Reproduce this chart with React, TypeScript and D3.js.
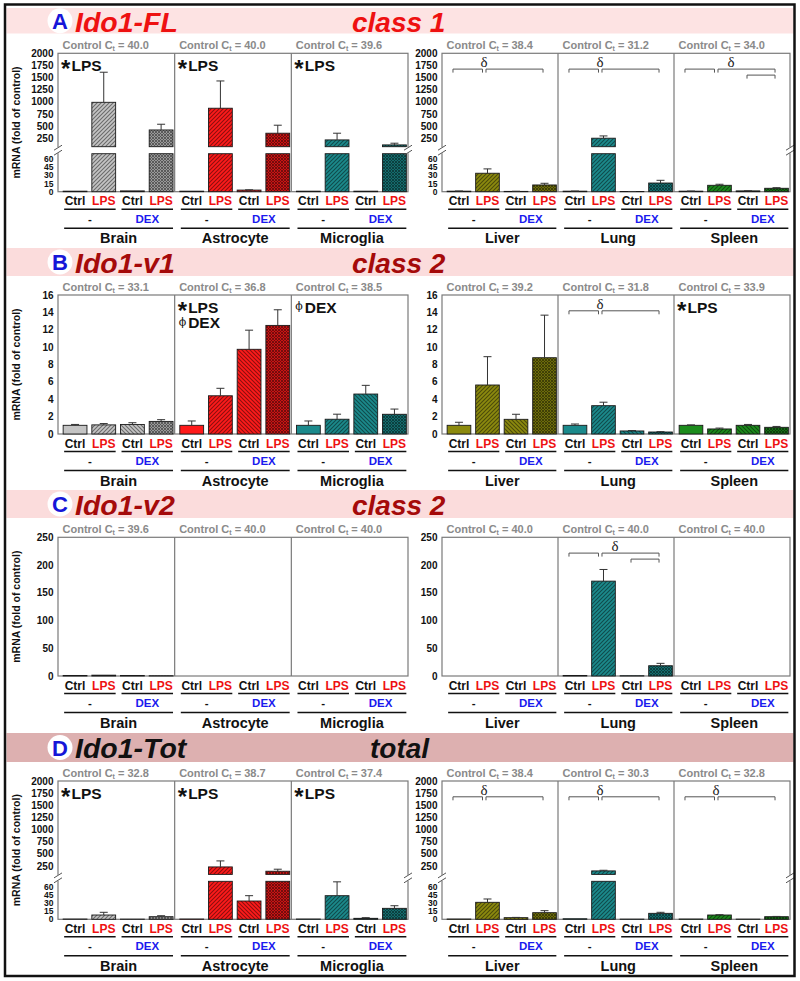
import React from "react";
import * as d3 from "d3";

const tissues = ["Brain", "Astrocyte", "Microglia", "Liver", "Lung", "Spleen"];
const barLabels = ["Ctrl", "LPS", "Ctrl", "LPS"];
const treatmentLabels = ["-", "DEX"];
const tissueColors = ["#c4c4c4", "#ff1a1a", "#1b8a8c", "#8c8a0e", "#1b8a8c", "#1c8c1c"];
const barKinds = ["solid", "lps", "dex", "dexlps"];

const brokenUpperTicks = [250, 500, 750, 1000, 1250, 1500, 1750, 2000];
const brokenLowerTicks = [0, 15, 30, 45, 60];
const v1Ticks = [0, 2, 4, 6, 8, 10, 12, 14, 16];
const v2Ticks = [0, 50, 100, 150, 200, 250];

// Panel A: Ido1-FL
const flMean = [
  [1, 990, 1.5, 420],
  [1, 868, 3, 353],
  [1, 215, 1, 112],
  [1, 34, 0.6, 12.4],
  [1, 250, 0.3, 16],
  [1, 11.8, 1.5, 6.3],
];
const flSD = [
  [0, 620, 0, 118],
  [0, 562, 0.5, 165],
  [0, 138, 0, 35],
  [0.3, 8, 0.2, 3.1],
  [0.2, 47, 0.1, 5],
  [0.2, 1.9, 0.2, 1.1],
];
const flCt = ["40.0", "40.0", "39.6", "38.4", "31.2", "34.0"];
const flNotes = [
  { t: 0, lines: [["*", "LPS"]] },
  { t: 1, lines: [["*", "LPS"]] },
  { t: 2, lines: [["*", "LPS"]] },
];
const flBrackets = [
  { t: 3, a: 0, b: 1, lv: 0 }, { t: 3, a: 1, b: 3, lv: 0 },
  { t: 4, a: 0, b: 1, lv: 0 }, { t: 4, a: 1, b: 3, lv: 0 },
  { t: 5, a: 0, b: 1, lv: 0 }, { t: 5, a: 1, b: 3, lv: 0 }, { t: 5, a: 2, b: 3, lv: 1 },
];
const flDeltas = [{ t: 3, dx: 0 }, { t: 4, dx: 0 }, { t: 5, dx: 15 }];

// Panel B: Ido1-v1
const v1Mean = [
  [1.0, 1.05, 1.1, 1.45],
  [1.0, 4.4, 9.75, 12.5],
  [1.0, 1.7, 4.6, 2.27],
  [1.0, 5.64, 1.69, 8.78],
  [1.0, 3.26, 0.35, 0.23],
  [1.0, 0.58, 1.0, 0.77],
];
const v1SD = [
  [0.1, 0.15, 0.2, 0.2],
  [0.5, 0.86, 2.2, 1.8],
  [0.5, 0.58, 1.0, 0.6],
  [0.35, 3.26, 0.58, 4.9],
  [0.15, 0.4, 0.05, 0.04],
  [0.05, 0.1, 0.1, 0.1],
];
const v1Ct = ["33.1", "36.8", "38.5", "39.2", "31.8", "33.9"];
const v1Notes = [
  { t: 1, lines: [["*", "LPS"], ["ϕ", "DEX"]] },
  { t: 2, lines: [["ϕ", "DEX"]] },
  { t: 5, lines: [["*", "LPS"]] },
];
const v1Brackets = [{ t: 4, a: 0, b: 1, lv: 0 }, { t: 4, a: 1, b: 3, lv: 0 }];
const v1Deltas = [{ t: 4, dx: 0 }];

// Panel C: Ido1-v2
const v2Mean = [
  [1, 1.5, 1, 0.5],
  [0, 0, 0, 0],
  [0, 0, 0, 0],
  [0, 0, 0, 0],
  [1, 171, 0.5, 18.5],
  [0, 0, 0, 0],
];
const v2SD = [
  [0, 0, 0, 0],
  [0, 0, 0, 0],
  [0, 0, 0, 0],
  [0, 0, 0, 0],
  [0, 21, 0, 4.3],
  [0, 0, 0, 0],
];
const v2Ct = ["39.6", "40.0", "40.0", "40.0", "40.0", "40.0"];
const v2Notes: any[] = [];
const v2Brackets = [{ t: 4, a: 0, b: 1, lv: 0 }, { t: 4, a: 1, b: 3, lv: 0 }, { t: 4, a: 2, b: 3, lv: 1 }];
const v2Deltas = [{ t: 4, dx: 15 }];

// Panel D: Ido1-Tot
const totMean = [
  [0.5, 7.9, 0.3, 4.8],
  [0.5, 229, 33.7, 140],
  [0.5, 43.5, 1.8, 20.2],
  [0.5, 31.3, 3, 12.2],
  [1, 147, 0.3, 11],
  [0.5, 7.9, 0.3, 4.8],
];
const totSD = [
  [0, 5, 0, 1.8],
  [0, 124, 9.8, 42],
  [0, 25.5, 1.2, 4.8],
  [0, 6.1, 0.5, 3.7],
  [0, 13, 0, 1.9],
  [0, 0.6, 0, 0.5],
];
const totCt = ["32.8", "38.7", "37.4", "38.4", "30.3", "32.8"];
const totNotes = [
  { t: 0, lines: [["*", "LPS"]] },
  { t: 1, lines: [["*", "LPS"]] },
  { t: 2, lines: [["*", "LPS"]] },
];
const totBrackets = [
  { t: 3, a: 0, b: 1, lv: 0 }, { t: 3, a: 1, b: 3, lv: 0 },
  { t: 4, a: 0, b: 1, lv: 0 }, { t: 4, a: 1, b: 3, lv: 0 },
  { t: 5, a: 0, b: 1, lv: 0 }, { t: 5, a: 1, b: 3, lv: 0 },
];
const totDeltas = [{ t: 3, dx: 0 }, { t: 4, dx: 0 }, { t: 5, dx: 0 }];

const panels = [
  { letter: "A", gene: "Ido1-FL", cls: "class 1", clsX: 352, textColor: "#ee1111", bandColor: "#fde3e3",
    bandY: 8, bandH: 25.5, base: 31.5, top: 53.3, bottom: 191.7, broken: true, ticks: [] as number[], max: 0,
    mean: flMean, sd: flSD, ct: flCt, notes: flNotes, brackets: flBrackets, deltas: flDeltas },
  { letter: "B", gene: "Ido1-v1", cls: "class 2", clsX: 352, textColor: "#a50a0a", bandColor: "#fbdcdc",
    bandY: 248, bandH: 28, base: 272.5, top: 295, bottom: 434, broken: false, ticks: v1Ticks, max: 16,
    mean: v1Mean, sd: v1SD, ct: v1Ct, notes: v1Notes, brackets: v1Brackets, deltas: v1Deltas },
  { letter: "C", gene: "Ido1-v2", cls: "class 2", clsX: 352, textColor: "#a50a0a", bandColor: "#fbdcdc",
    bandY: 490, bandH: 28, base: 515, top: 537.3, bottom: 676, broken: false, ticks: v2Ticks, max: 250,
    mean: v2Mean, sd: v2SD, ct: v2Ct, notes: v2Notes, brackets: v2Brackets, deltas: v2Deltas },
  { letter: "D", gene: "Ido1-Tot", cls: "total", clsX: 370, textColor: "#111111", bandColor: "#ddb0b0",
    bandY: 733, bandH: 29, base: 757.5, top: 781, bottom: 919.3, broken: true, ticks: [] as number[], max: 0,
    mean: totMean, sd: totSD, ct: totCt, notes: totNotes, brackets: totBrackets, deltas: totDeltas },
];

const FONT = "'Liberation Sans', Arial, sans-serif";
const LEFT_X = [58, 408];
const RIGHT_X = [442, 790];
const FRAME = "#7a7a7a";

function subPanel(ti: number) {
  const [a, b] = ti < 3 ? LEFT_X : RIGHT_X;
  const w = (b - a) / 3;
  const x0 = a + w * (ti % 3);
  const xs = d3.scaleBand<number>().domain([0, 1, 2, 3]).range([x0 + 4, x0 + w - 0.5]).paddingInner(0.17).paddingOuter(0.04);
  return { x0, w, xs };
}

function Panel({ p }: { p: any }) {
  const { top, bottom } = p;
  const breakTop = top + 93.4;
  const breakBot = bottom - 38;
  const yUp = d3.scaleLinear().domain([75, 2000]).range([breakTop, top]);
  const yLow = d3.scaleLinear().domain([0, 70]).range([bottom, breakBot]);
  const yLin = d3.scaleLinear().domain([0, p.max || 1]).range([bottom, top]);
  const els: any[] = [];

  // header band
  els.push(<rect key="band" x={6.5} y={p.bandY} width={787} height={p.bandH} fill={p.bandColor} />);
  const cy = p.bandY + p.bandH / 2;
  els.push(<circle key="circ" cx={60} cy={cy} r={12.5} fill="#fff" />);
  els.push(<text key="let" x={60} y={cy + 8} textAnchor="middle" fontSize={22} fontWeight="bold" fill="#1616d8" fontFamily={FONT}>{p.letter}</text>);
  els.push(<text key="gene" x={75} y={p.base} fontSize={28.5} fontWeight="bold" fontStyle="italic" fill={p.textColor} fontFamily={FONT}>{p.gene}</text>);
  els.push(<text key="cls" x={p.clsX} y={p.base} fontSize={28} fontWeight="bold" fontStyle="italic" fill={p.textColor} fontFamily={FONT}>{p.cls}</text>);

  // frames
  [LEFT_X, RIGHT_X].forEach((side, si) => {
    els.push(<rect key={"fr" + si} x={side[0]} y={top} width={side[1] - side[0]} height={bottom - top} fill="none" stroke={FRAME} strokeWidth={1.2} />);
    const w = (side[1] - side[0]) / 3;
    [1, 2].forEach((k) => {
      els.push(<line key={"dv" + si + k} x1={side[0] + w * k} x2={side[0] + w * k} y1={top} y2={bottom} stroke={FRAME} strokeWidth={1.2} />);
    });
    // tick labels
    const tickEls: any[] = [];
    if (p.broken) {
      brokenUpperTicks.forEach((v) => tickEls.push({ v, y: yUp(v), fs: 10 }));
      brokenLowerTicks.forEach((v) => tickEls.push({ v, y: yLow(v), fs: 8.5 }));
    } else {
      p.ticks.forEach((v: number) => tickEls.push({ v, y: yLin(v), fs: 10 }));
    }
    tickEls.forEach((t, i) => {
      els.push(<text key={"tk" + si + "_" + i} x={side[0] - 4.5} y={t.y + t.fs * 0.36} textAnchor="end" fontSize={t.fs} fontWeight="bold" fill="#111" fontFamily={FONT}>{t.v}</text>);
    });
  });

  // bars
  for (let ti = 0; ti < 6; ti++) {
    const { x0, xs } = subPanel(ti);
    const bw = xs.bandwidth();
    // Ct label
    els.push(
      <text key={"ct" + ti} x={x0 + 4.5} y={top - 4.5} fontSize={11} fontWeight="bold" fill="#8a8a8a" fontFamily={FONT}>
        Control C<tspan fontSize={7} dy={2.5}>t</tspan><tspan dy={-2.5}>{" = " + p.ct[ti]}</tspan>
      </text>
    );
    for (let bi = 0; bi < 4; bi++) {
      const v = p.mean[ti][bi];
      const sd = p.sd[ti][bi];
      const bx = xs(bi) as number;
      const fill = bi === 0 ? tissueColors[ti] : `url(#p${ti}${barKinds[bi]})`;
      if (v > 0) {
        if (p.broken) {
          const lowTop = yLow(Math.min(v, 70));
          els.push(<rect key={`bl${ti}${bi}`} x={bx} y={lowTop} width={bw} height={bottom - lowTop} fill={fill} stroke="#1a1a1a" strokeWidth={0.9} />);
          if (v > 70) {
            const upTop = yUp(v);
            els.push(<rect key={`bu${ti}${bi}`} x={bx} y={upTop} width={bw} height={breakTop - upTop} fill={fill} stroke="#1a1a1a" strokeWidth={0.9} />);
          }
        } else {
          const yt = yLin(v);
          els.push(<rect key={`b${ti}${bi}`} x={bx} y={yt} width={bw} height={bottom - yt} fill={fill} stroke="#1a1a1a" strokeWidth={0.9} />);
        }
      }
      if (sd > 0 && v > 0) {
        let y1: number, y2: number;
        if (p.broken) {
          if (v > 70) { y1 = yUp(v); y2 = yUp(v + sd); } else { y1 = yLow(v); y2 = yLow(v + sd); }
        } else { y1 = yLin(v); y2 = yLin(v + sd); }
        const cx = bx + bw / 2;
        els.push(<line key={`e${ti}${bi}`} x1={cx} x2={cx} y1={y1} y2={y2} stroke="#333" strokeWidth={1} />);
        els.push(<line key={`ec${ti}${bi}`} x1={cx - 4} x2={cx + 4} y1={y2} y2={y2} stroke="#333" strokeWidth={1} />);
      }
      // under labels
      els.push(
        <text key={`lb${ti}${bi}`} x={bx + bw / 2} y={bottom + 13.5} textAnchor="middle" fontSize={12} fontWeight="bold" fill={bi % 2 === 0 ? "#111" : "#ee1111"} fontFamily={FONT}>{barLabels[bi]}</text>
      );
    }
    // pair lines
    [0, 1].forEach((k) => {
      const xa = (xs(k * 2) as number) + 1;
      const xb = (xs(k * 2 + 1) as number) + bw;
      els.push(<line key={`pl${ti}${k}`} x1={xa} x2={xb} y1={bottom + 17.5} y2={bottom + 17.5} stroke="#111" strokeWidth={1.5} />);
      els.push(
        <text key={`tr${ti}${k}`} x={(xa + xb) / 2} y={bottom + 31} textAnchor="middle" fontSize={11.5} fontWeight="bold" fill={k === 0 ? "#111" : "#1a1aee"} fontFamily={FONT}>{treatmentLabels[k]}</text>
      );
    });
    const xa = (xs(0) as number) + 1;
    const xb = (xs(3) as number) + bw;
    els.push(<line key={`tl${ti}`} x1={xa} x2={xb} y1={bottom + 36.5} y2={bottom + 36.5} stroke="#111" strokeWidth={1.5} />);
    els.push(
      <text key={`tn${ti}`} x={(xa + xb) / 2} y={bottom + 51.5} textAnchor="middle" fontSize={14.5} fontWeight="bold" fill="#111" fontFamily={FONT}>{tissues[ti]}</text>
    );
  }

  // break marks
  if (p.broken) {
    [LEFT_X[0], LEFT_X[1], RIGHT_X[0], RIGHT_X[1]].forEach((x, i) => {
      els.push(<rect key={"bk" + i} x={x - 1.5} y={breakTop + 0.5} width={3} height={breakBot - breakTop - 1} fill="#fff" />);
      [breakTop + 1, breakBot - 1].forEach((yy, j) => {
        els.push(<line key={`bs${i}${j}`} x1={x - 4} y1={yy + 2.5} x2={x + 4} y2={yy - 2.5} stroke="#555" strokeWidth={1} />);
      });
    });
  }

  // y title
  const my = (top + bottom) / 2;
  els.push(
    <text key="yt" transform={`translate(20,${my}) rotate(-90)`} textAnchor="middle" fontSize={10.5} fontWeight="bold" fill="#111" fontFamily={FONT}>mRNA (fold of control)</text>
  );

  // notes
  p.notes.forEach((n: any, i: number) => {
    const { x0 } = subPanel(n.t);
    n.lines.forEach((ln: string[], j: number) => {
      const by = top + 17.5 + j * 15.5;
      if (ln[0] === "*") {
        els.push(<text key={`ns${i}${j}`} x={x0 + 3} y={by + 6.5} fontSize={24} fontWeight="bold" fill="#111" fontFamily={FONT}>*</text>);
      } else {
        els.push(<text key={`ns${i}${j}`} x={x0 + 4} y={by - 2.5} fontSize={11} fill="#111" fontFamily="'DejaVu Serif', serif">{ln[0]}</text>);
      }
      els.push(<text key={`nt${i}${j}`} x={x0 + 13.5} y={by} fontSize={15.5} fontWeight="bold" fill="#111" fontFamily={FONT}>{ln[1]}</text>);
    });
  });

  // brackets
  p.brackets.forEach((b: any, i: number) => {
    const { xs } = subPanel(b.t);
    const c = (k: number) => (xs(k) as number) + xs.bandwidth() / 2;
    let x1: number, x2: number;
    if (b.lv === 1) { x1 = c(b.a) - 1; x2 = c(b.b) - 1.5; }
    else if (b.a === 0) { x1 = c(0) - 6; x2 = c(1) - 5; }
    else { x1 = c(1) - 1.5; x2 = c(b.b) - 1.5; }
    const yb = top + 15.8 + b.lv * 6;
    els.push(<path key={"br" + i} d={`M${x1},${yb + 3.5}V${yb}H${x2}V${yb + 3.5}`} fill="none" stroke="#555" strokeWidth={1} />);
  });
  p.deltas.forEach((d: any, i: number) => {
    const { xs } = subPanel(d.t);
    const cx = (xs(1) as number) + xs.bandwidth() / 2 - 3.5 + d.dx;
    els.push(<text key={"dl" + i} x={cx} y={top + 13.5} textAnchor="middle" fontSize={15} fill="#222" fontFamily="'Liberation Serif', 'DejaVu Serif', serif">δ</text>);
  });

  return <g>{els}</g>;
}

export default function App() {
  const defs: any[] = [];
  tissueColors.forEach((c, ti) => {
    const dark = (d3.color(c) as any).darker(1.7).formatHex();
    const dark2 = (d3.color(c) as any).darker(0.7).formatHex();
    const darker = (d3.color(c) as any).darker(2.4).formatHex();
    defs.push(
      <pattern key={`p${ti}lps`} id={`p${ti}lps`} patternUnits="userSpaceOnUse" width={4} height={4}>
        <rect width={4} height={4} fill={c} />
        <path d="M-1,1 l2,-2 M0,4 l4,-4 M3,5 l2,-2" stroke={dark} strokeWidth={1.1} />
      </pattern>
    );
    defs.push(
      <pattern key={`p${ti}dex`} id={`p${ti}dex`} patternUnits="userSpaceOnUse" width={4} height={4}>
        <rect width={4} height={4} fill={c} />
        <path d="M-1,3 l2,2 M0,0 l4,4 M3,-1 l2,2" stroke={dark} strokeWidth={1.1} />
      </pattern>
    );
    defs.push(
      <pattern key={`p${ti}dexlps`} id={`p${ti}dexlps`} patternUnits="userSpaceOnUse" width={3} height={3}>
        <rect width={3} height={3} fill={dark2} />
        <path d="M0,0 l3,3 M0,3 l3,-3" stroke={darker} strokeWidth={0.9} />
      </pattern>
    );
  });
  return (
    <svg width={800} height={981} style={{ position: "absolute", left: 0, top: 0, background: "#fff" }}>
      <defs>{defs}</defs>
      <rect x={0} y={0} width={800} height={981} fill="#fff" />
      {panels.map((p, i) => <Panel key={i} p={p} />)}
      <rect x={5} y={4.5} width={789.5} height={971.5} fill="none" stroke="#111" strokeWidth={2.5} />
    </svg>
  );
}
